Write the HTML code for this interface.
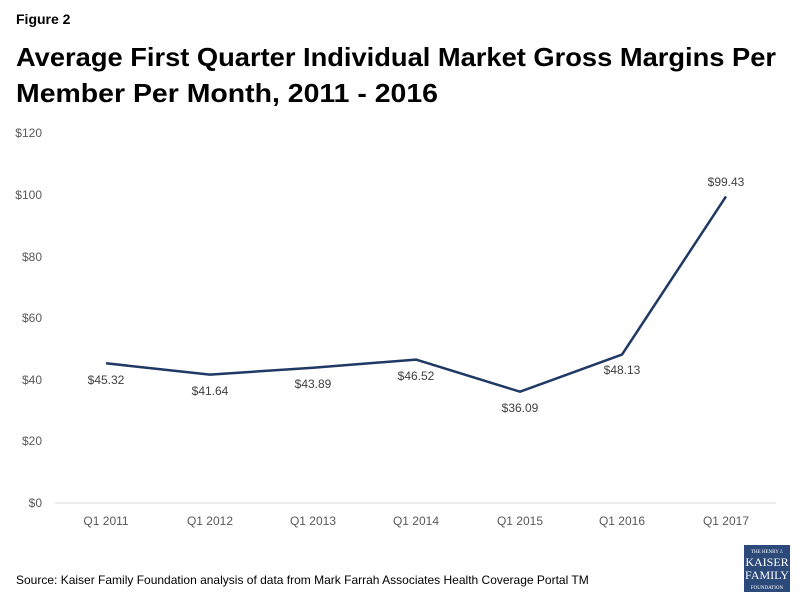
<!DOCTYPE html>
<html><head><meta charset="utf-8"><style>
body{margin:0;background:#fff;}
svg{display:block;font-family:"Liberation Sans",sans-serif;}
</style></head><body>
<svg width="800" height="600" viewBox="0 0 800 600">
<text x="16" y="24" font-size="14" font-weight="bold" fill="#000">Figure 2</text>
<text x="16" y="66" font-size="26" font-weight="bold" fill="#000" textLength="760" lengthAdjust="spacingAndGlyphs">Average First Quarter Individual Market Gross Margins Per</text>
<text x="16" y="102" font-size="26" font-weight="bold" fill="#000" textLength="422" lengthAdjust="spacingAndGlyphs">Member Per Month, 2011 - 2016</text>
<g font-size="12" fill="#595959" text-anchor="end">
<text x="42" y="137">$120</text>
<text x="42" y="199">$100</text>
<text x="42" y="261">$80</text>
<text x="42" y="322">$60</text>
<text x="42" y="384">$40</text>
<text x="42" y="445">$20</text>
<text x="42" y="507">$0</text>
</g>
<line x1="55" y1="503" x2="776" y2="503" stroke="#d9d9d9" stroke-width="1"/>
<g font-size="12" fill="#595959" text-anchor="middle">
<text x="106" y="525">Q1 2011</text>
<text x="210" y="525">Q1 2012</text>
<text x="313" y="525">Q1 2013</text>
<text x="416" y="525">Q1 2014</text>
<text x="520" y="525">Q1 2015</text>
<text x="622" y="525">Q1 2016</text>
<text x="726" y="525">Q1 2017</text>
</g>
<polyline fill="none" stroke="#1f3864" stroke-width="2.5" stroke-linejoin="round" points="106,363.3 210,374.6 313,367.7 416,359.6 520,391.7 622,354.6 726,196.4"/>
<g font-size="12" fill="#404040" text-anchor="middle">
<text x="106" y="384">$45.32</text>
<text x="210" y="395">$41.64</text>
<text x="313" y="388">$43.89</text>
<text x="416" y="380">$46.52</text>
<text x="520" y="412">$36.09</text>
<text x="622" y="374">$48.13</text>
<text x="726" y="186">$99.43</text>
</g>
<text x="16" y="584" font-size="12" fill="#000">Source:  Kaiser Family Foundation  analysis of data from Mark Farrah Associates Health Coverage Portal TM</text>
<rect x="744" y="545" width="46" height="47" fill="#2b4a7a"/>
<g fill="#fff" text-anchor="middle" font-family="Liberation Serif,serif">
<text x="767" y="553" font-size="5">THE HENRY J.</text>
<text x="767" y="566" font-size="12">KAISER</text>
<text x="767" y="579" font-size="12">FAMILY</text>
<text x="767" y="589" font-size="5">FOUNDATION</text>
</g>
</svg>
</body></html>
